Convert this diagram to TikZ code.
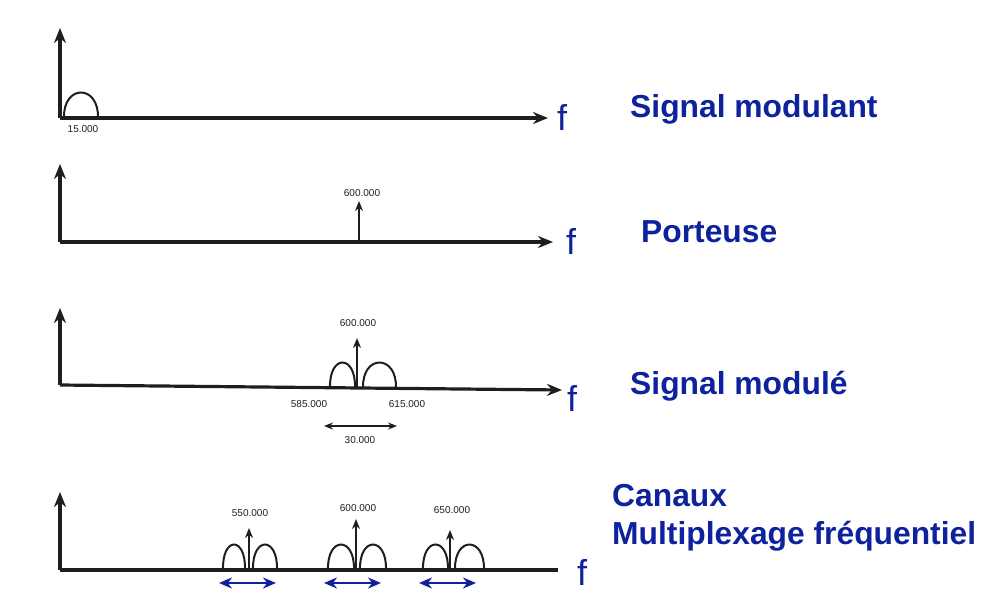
\documentclass[tikz,border=0pt]{standalone}
\usepackage{fontspec}
\setmainfont{Liberation Sans}
\usetikzlibrary{arrows.meta}
\definecolor{tblue}{RGB}{14,34,158}
\definecolor{ink}{RGB}{30,30,30}
\newcommand\archbump[3]{\draw[bumpline] (#1,#3) .. controls (#1-1,#3-34) and (#2+1,#3-34) .. (#2,#3);}
\begin{document}
\begin{tikzpicture}[x=1pt,y=-1pt,
  axis/.style={draw=ink,line width=3.2pt,-{Stealth[length=15pt,width=12pt]}},
  carrier/.style={draw=ink,line width=2pt,-{Stealth[length=10pt,width=8pt]}},
  bumpline/.style={draw=ink,line width=2pt},
  span/.style={draw=ink,line width=1.8pt,{Stealth[length=9pt,width=7pt]}-{Stealth[length=9pt,width=7pt]}},
  chan/.style={draw=tblue,line width=2.4pt,{Stealth[length=13pt,width=11pt]}-{Stealth[length=13pt,width=11pt]}},
  hand/.style={font=\fontsize{10}{11}\selectfont,text=ink,inner sep=0pt},
  title/.style={font=\fontsize{31.8}{36}\selectfont\bfseries,text=tblue,inner sep=0pt,anchor=base west},
  fvar/.style={font=\fontsize{36}{40}\selectfont,text=tblue,inner sep=0pt,anchor=base west}]
\useasboundingbox (0,0) rectangle (988,598);

% ---------- panel 1 : signal modulant
\coordinate (o1) at (60,118);
\coordinate (y1) at (60,28);
\coordinate (x1) at (548,118);
\draw[axis] (o1) -- (y1);
\draw[axis] (o1) -- (x1);
\archbump{64}{98}{118}
\node[hand] (l15) at (83,129) {15.000};
\node[fvar] (f1) at (557,130) {f};
\node[title] (t1) at (630,117) {Signal modulant};

% ---------- panel 2 : porteuse
\coordinate (o2) at (60,242);
\coordinate (y2) at (60,164);
\coordinate (x2) at (553,242);
\draw[axis] (o2) -- (y2);
\draw[axis] (o2) -- (x2);
\coordinate (c2) at (359,242);
\coordinate (c2t) at (359,201);
\draw[carrier] (c2) -- (c2t);
\node[hand] (l600a) at (362,193) {600.000};
\node[fvar] (f2) at (566,254) {f};
\node[title] (t2) at (641,242) {Porteuse};

% ---------- panel 3 : signal module
\coordinate (o3) at (60,385);
\coordinate (y3) at (60,308);
\coordinate (x3) at (562,390);
\draw[axis] (o3) -- (y3);
\draw[axis] (o3) -- (x3);
\archbump{330}{355}{388}
\archbump{363}{396}{388}
\coordinate (c3) at (357,388);
\coordinate (c3t) at (357,338);
\draw[carrier] (c3) -- (c3t);
\node[hand] (l600b) at (358,323) {600.000};
\node[hand] (l585) at (309,404) {585.000};
\node[hand] (l615) at (407,404) {615.000};
\coordinate (s3a) at (324,426);
\coordinate (s3b) at (397,426);
\draw[span] (s3a) -- (s3b);
\node[hand] (l30) at (360,440) {30.000};
\node[fvar] (f3) at (567,411) {f};
\node[title] (t3) at (630,394) {Signal modulé};

% ---------- panel 4 : canaux
\coordinate (o4) at (60,570);
\coordinate (y4) at (60,492);
\coordinate (x4) at (558,570);
\draw[axis] (o4) -- (y4);
\draw[draw=ink,line width=3.2pt] (o4) -- (x4);
% channel 1
\archbump{223}{245}{570}
\archbump{253}{277}{570}
\coordinate (c41) at (249,570);
\coordinate (c41t) at (249,528);
\draw[carrier] (c41) -- (c41t);
\node[hand] (l550) at (250,513) {550.000};
\coordinate (a41) at (219,583);
\coordinate (b41) at (276,583);
\draw[chan] (a41) -- (b41);
% channel 2
\archbump{328}{354}{570}
\archbump{360}{386}{570}
\coordinate (c42) at (356,570);
\coordinate (c42t) at (356,519);
\draw[carrier] (c42) -- (c42t);
\node[hand] (l600c) at (358,508) {600.000};
\coordinate (a42) at (324,583);
\coordinate (b42) at (381,583);
\draw[chan] (a42) -- (b42);
% channel 3
\archbump{423}{448}{570}
\archbump{455}{484}{570}
\coordinate (c43) at (450,570);
\coordinate (c43t) at (450,530);
\draw[carrier] (c43) -- (c43t);
\node[hand] (l650) at (452,510) {650.000};
\coordinate (a43) at (419,583);
\coordinate (b43) at (476,583);
\draw[chan] (a43) -- (b43);
\node[fvar] (f4) at (577,585) {f};
\node[title] (t4a) at (612,506) {Canaux};
\node[title] (t4b) at (612,544) {Multiplexage fréquentiel};
\end{tikzpicture}
\end{document}
